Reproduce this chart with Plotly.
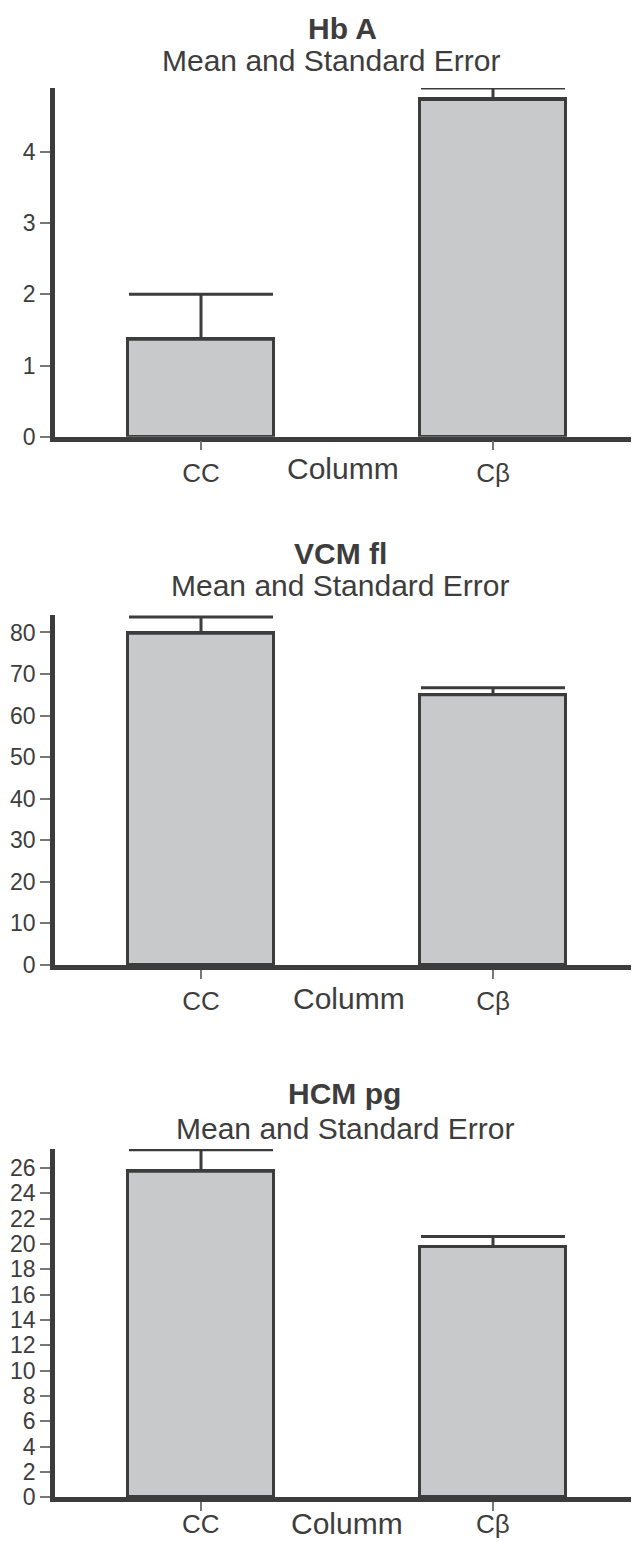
import plotly.graph_objects as go

# ---- data ----
categories = ["CC", "Cβ"]
hba_mean = [1.37, 4.74]
hba_se = [0.63, 0.16]
vcm_mean = [79.8, 65.0]
vcm_se = [3.9, 1.7]
hcm_mean = [25.75, 19.8]
hcm_se = [1.7, 0.8]
titles = ["Hb A", "VCM fl", "HCM pg"]
subtitle = "Mean and Standard Error"
xlabel = "Columm"

# page body has an 8px margin: figure sits at (8, 8) in the window
OFF = 8
W, H = 639 - OFF, 1541 - OFF
def px(x):
    return (x - OFF) / W
def py(y):
    return 1 - (y - OFF) / H

TXT = "#3d3d3d"
EDGE = "#3c3c3c"
FILL = "#c8c9cb"
FONT = "Liberation Sans, Arial, sans-serif"

panels = [
    dict(mean=hba_mean, se=hba_se, top=88, zero=436.7, ymax=4.9, dtick=1, tfont=23,
         title_y=28, title_x=342, sub_y=60, sub_x=331, lab_y=468, lab_x=343, cat_y=None),
    dict(mean=vcm_mean, se=vcm_se, top=615, zero=965, ymax=84.2, dtick=10, tfont=23,
         title_y=553, title_x=340, sub_y=585, sub_x=340, lab_y=998, lab_x=349, cat_y=None),
    dict(mean=hcm_mean, se=hcm_se, top=1149, zero=1497.3, ymax=27.5, dtick=2, tfont=23,
         title_y=1093, title_x=344, sub_y=1128, sub_x=345, lab_y=1523, lab_x=347, cat_y=1524),
]

fig = go.Figure()
annotations = []
for i, p in enumerate(panels):
    n = i + 1
    xa = "x" if n == 1 else f"x{n}"
    ya = "y" if n == 1 else f"y{n}"
    fig.add_trace(go.Bar(
        x=categories, y=p["mean"], xaxis=xa, yaxis=ya, width=0.5,
        marker=dict(color=FILL, line=dict(color=EDGE, width=3)),
        error_y=dict(type="data", array=p["se"], arrayminus=[0] * len(p["se"]),
                     symmetric=False, color=EDGE, thickness=3, width=72),
        showlegend=False, hoverinfo="skip",
    ))
    xkey = "xaxis" if n == 1 else f"xaxis{n}"
    ykey = "yaxis" if n == 1 else f"yaxis{n}"
    fig.update_layout(**{
        xkey: dict(domain=[px(55), 1.0], range=[-0.5, 1.5], anchor=ya,
                   showline=True, linecolor=EDGE, linewidth=4.5,
                   ticks="outside", ticklen=9, tickwidth=1.5, tickcolor="#777777",
                   showticklabels=p["cat_y"] is None,
                   tickfont=dict(family=FONT, size=26, color=TXT),
                   showgrid=False, zeroline=False, automargin=False, fixedrange=True),
        ykey: dict(domain=[py(p["zero"]), py(p["top"])], range=[0, p["ymax"]], anchor=xa,
                   showline=True, linecolor=EDGE, linewidth=4.5,
                   ticks="outside", ticklen=10, tickwidth=1.5, tickcolor="#777777",
                   tick0=0, dtick=p["dtick"],
                   tickfont=dict(family=FONT, size=p["tfont"], color=TXT),
                   showgrid=False, zeroline=False, automargin=False, fixedrange=True),
    })
    if p["cat_y"] is not None:
        for c in categories:
            annotations.append(dict(text=c, x=c, xref=xa, y=py(p["cat_y"]), yref="paper",
                                    xanchor="center", yanchor="middle", showarrow=False,
                                    font=dict(family=FONT, size=26, color=TXT)))
    annotations += [
        dict(text=f"<b>{titles[i]}</b>", x=px(p["title_x"]), y=py(p["title_y"]),
             xref="paper", yref="paper", xanchor="center", yanchor="middle",
             showarrow=False, font=dict(family=FONT, size=30, color=TXT)),
        dict(text=subtitle, x=px(p["sub_x"]), y=py(p["sub_y"]),
             xref="paper", yref="paper", xanchor="center", yanchor="middle",
             showarrow=False, font=dict(family=FONT, size=30, color=TXT)),
        dict(text=xlabel, x=px(p["lab_x"]), y=py(p["lab_y"]),
             xref="paper", yref="paper", xanchor="center", yanchor="middle",
             showarrow=False, font=dict(family=FONT, size=30, color=TXT)),
    ]

fig.update_layout(
    width=W, height=H, margin=dict(l=0, r=0, t=0, b=0),
    paper_bgcolor="white", plot_bgcolor="white",
    annotations=annotations, bargap=0,
)
fig.write_html("out.html")
